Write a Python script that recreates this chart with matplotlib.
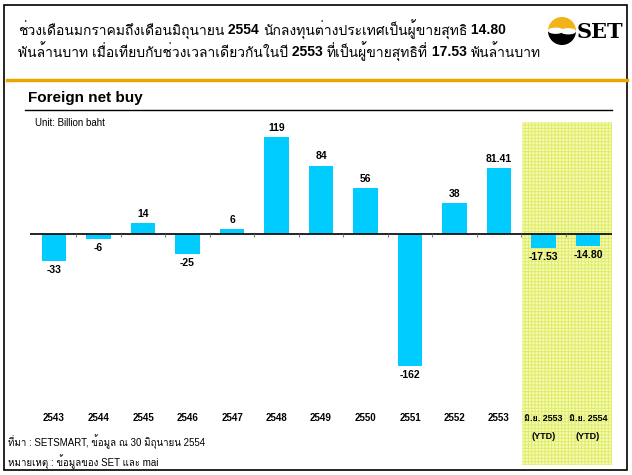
import numpy as np
import matplotlib
matplotlib.use("Agg")
import matplotlib.pyplot as plt
from matplotlib import font_manager
from matplotlib.ft2font import FT2Font
from matplotlib.patches import Rectangle, Wedge, Ellipse
###############################################################################
""" Datos """
###############################################################################
anios = ["2543", "2544", "2545", "2546", "2547", "2548", "2549", "2550",
         "2551", "2552", "2553", "มิ.ย. 2553", "มิ.ย. 2554"]
sub = ["", "", "", "", "", "", "", "", "", "", "", "(YTD)", "(YTD)"]
valores = [-33, -6, 14, -25, 6, 119, 84, 56, -162, 38, 81.41, -17.53, -14.80]
etiquetas = ["-33", "-6", "14", "-25", "6", "119", "84", "56", "-162", "38",
             "81.41", "-17.53", "-14.80"]
# titulo en trozos (texto, negrita)
titulo1 = [("ช่วงเดือนมกราคมถึงเดือนมิถุนายน", False), (" 2554 ", True),
           ("นักลงทุนต่างประเทศเป็นผู้ขายสุทธิ", False), (" 14.80", True)]
titulo2 = [("พันล้านบาท เมื่อเทียบกับช่วงเวลาเดียวกันในปี", False), (" 2553 ", True),
           ("ที่เป็นผู้ขายสุทธิที่", False), (" 17.53 ", True), ("พันล้านบาท", False)]
nota1 = "ที่มา : SETSMART, ข้อมูล ณ 30 มิถุนายน 2554"
nota2 = "หมายเหตุ : ข้อมูลของ SET และ mai"
###############################################################################
""" Fuente con glifos tailandeses """
###############################################################################
thai = []
for f in font_manager.fontManager.ttflist:
    try:
        if 0x0E01 in FT2Font(f.fname).get_charmap() and f.name not in thai:
            thai.append(f.name)
    except Exception:
        pass
fam = ["Liberation Sans"] + thai[:2] + ["DejaVu Sans"]
plt.rcParams['font.family'] = fam
plt.rcParams['hatch.linewidth'] = 0.6
###############################################################################
W, H = 632, 475
def px(x, y):
    return x / W, 1 - y / H

fig = plt.figure(figsize=(6.32, 4.75), dpi=100)
rend = fig.canvas.get_renderer()

def linea(trozos, x0, y0, fs):
    x = x0
    for txt, neg in trozos:
        t = fig.text(*px(x, y0), txt, fontsize=fs, va="center", ha="left",
                     fontweight="bold" if neg else "normal")
        x = x + t.get_window_extent(rend).width

# marco exterior y linea naranja
fig.patches.append(Rectangle(px(4, 470), 623 / W, 465 / H, transform=fig.transFigure,
                             fill=False, edgecolor="black", lw=1.2))
fig.add_artist(plt.Line2D([7 / W, 627 / W], [1 - 80 / H] * 2, color="#E8A800", lw=2.5))
fig.add_artist(plt.Line2D([25 / W, 612 / W], [1 - 110 / H] * 2, color="black", lw=1.0))

linea(titulo1, 18, 30, 10)
linea(titulo2, 18, 52, 10)
fig.text(*px(28, 98), "Foreign net buy", fontsize=11, fontweight="bold", va="center")
fig.text(*px(35, 123), "Unit: Billion baht", fontsize=7, va="center")
fig.text(*px(8, 442), nota1, fontsize=7, va="center")
fig.text(*px(8, 462), nota2, fontsize=7, va="center")

# logo SET
lax = fig.add_axes([546 / W, 1 - 45 / H, 32 / W, 28 / H])
lax.set_xlim(-1, 1)
lax.set_ylim(-1, 1)
lax.set_aspect("equal")
lax.axis("off")
lax.add_patch(Wedge((0, 0), 0.95, 0, 180, color="#F2B318"))
lax.add_patch(Wedge((0, 0), 0.95, 180, 360, color="black"))
lax.add_patch(Ellipse((-0.45, 0.02), 1.0, 0.35, color="white"))
lax.add_patch(Ellipse((0.45, -0.02), 1.0, 0.35, color="white"))
fig.text(*px(577, 32), "SET", fontsize=15, fontweight="bold", family="DejaVu Serif",
         va="center", ha="left")
###############################################################################
""" Grafico de barras """
###############################################################################
esc = 0.815  # px por unidad
ymax = (234 - 122) / esc
ymin = -(465 - 234) / esc
ax = fig.add_axes([30 / W, 1 - 465 / H, 582 / W, 343 / H])
ax.set_xlim(-0.54, 12.54)
ax.set_ylim(ymin, ymax)
ax.axis("off")

x = np.arange(len(valores))
ax.axvspan(10.52, 12.54, facecolor="#F6FAAE", edgecolor="#DDEB66", hatch="+++++", lw=0)
ax.bar(x, valores, width=0.55, color="#00CCFF", zorder=2)
ax.axhline(0, color="black", lw=1.2, zorder=3)
ax.vlines(x[:-1] + 0.5, -4, 0, color="gray", lw=0.8, zorder=3)

for i in range(len(valores)):
    if valores[i] >= 0:
        ax.text(x[i], valores[i] + 5, etiquetas[i], ha="center", va="bottom",
                fontsize=7.5, fontweight="bold")
    else:
        ax.text(x[i], valores[i] - 5, etiquetas[i], ha="center", va="top",
                fontsize=7.5, fontweight="bold")
    ax.text(x[i], -(418 - 234) / esc, anios[i], ha="center", va="center",
            fontsize=7 if not sub[i] else 6.5, fontweight="bold")
    if sub[i]:
        ax.text(x[i], -(436 - 234) / esc, sub[i], ha="center", va="center",
                fontsize=6.5, fontweight="bold")

plt.savefig("out.png", dpi=100)
